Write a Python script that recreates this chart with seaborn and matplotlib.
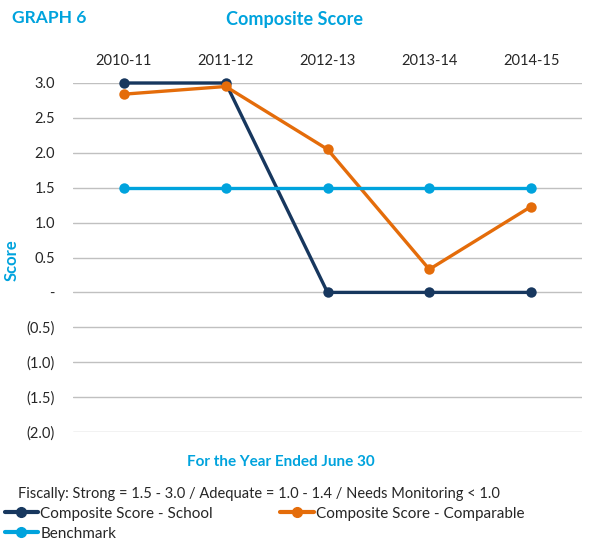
import pandas as pd
import seaborn as sns
import matplotlib.pyplot as plt
from matplotlib.lines import Line2D

years = ['2010-11', '2011-12', '2012-13', '2013-14', '2014-15']
school = [3.0, 3.0, 0.0, 0.0, 0.0]
comparable = [2.84, 2.95, 2.05, 0.33, 1.23]
benchmark = [1.5, 1.5, 1.5, 1.5, 1.5]

series_names = ['Composite Score - School', 'Composite Score - Comparable', 'Benchmark']
colors = ['#17375E', '#E46C0A', '#00A3DD']
y_ticks = [3.0, 2.5, 2.0, 1.5, 1.0, 0.5, 0.0, -0.5, -1.0, -1.5, -2.0]

def fmt(v):
    if v == 0:
        return '-'
    if v < 0:
        return '(%.1f)' % abs(v)
    return '%.1f' % v

df = pd.DataFrame({
    'Year': years * 3,
    'Score': school + comparable + benchmark,
    'Series': [s for s in series_names for _ in years],
})

sns.set_style('white')
plt.rcParams['font.family'] = ['Lato', 'DejaVu Sans']
blue = '#00A3DD'
txt = '#262626'

fig = plt.figure(figsize=(6.06, 5.44), dpi=100)
ax = fig.add_axes([73 / 606, 1 - 432 / 544, (582 - 73) / 606, (432 - 83) / 544])

for name, col in zip(series_names, colors):
    sub = df[df['Series'] == name]
    sns.lineplot(data=sub, x='Year', y='Score', ax=ax, color=col, marker='o',
                 markersize=7.5, markeredgewidth=0, linewidth=2.4, sort=False,
                 clip_on=False, zorder=3)

ax.set_xlim(-0.5, 4.5)
ax.set_ylim(-2.0, 3.0)
ax.set_yticks(y_ticks)
ax.set_yticklabels([fmt(v) for v in y_ticks], fontsize=10.5, color=txt)
ax.yaxis.grid(True, color='#C0C0C0', linewidth=1)
ax.set_axisbelow(True)
ax.xaxis.tick_top()
ax.tick_params(axis='x', labelsize=10.5, labelcolor=txt, length=0, pad=11)
ax.tick_params(axis='y', length=0, pad=13)
for s in ax.spines.values():
    s.set_visible(False)
ax.set_xlabel('')
ax.set_ylabel('')

fig.text(12 / 606, 1 - 18 / 544, 'GRAPH 6', fontsize=12.5, fontweight='bold',
         color=blue, va='center', ha='left')
fig.text(294 / 606, 1 - 19 / 544, 'Composite Score', fontsize=13, fontweight='bold',
         color=blue, va='center', ha='center')
fig.text(12 / 606, 1 - 260 / 544, 'Score', fontsize=12, fontweight='bold',
         color=blue, va='center', ha='center', rotation=90)
fig.text(281 / 606, 1 - 462 / 544, 'For the Year Ended June 30', fontsize=11,
         fontweight='bold', color=blue, va='center', ha='center')
fig.text(18 / 606, 1 - 494 / 544,
         'Fiscally: Strong = 1.5 - 3.0 / Adequate = 1.0 - 1.4 / Needs Monitoring < 1.0',
         fontsize=10.5, color=txt, va='center', ha='left')

handles = [Line2D([], [], color=colors[0], marker='o', linewidth=3, markersize=7),
           Line2D([], [], color=colors[2], marker='o', linewidth=3, markersize=7),
           Line2D([], [], color=colors[1], marker='o', linewidth=3, markersize=7)]
labels = [series_names[0], series_names[2], series_names[1]]
fig.legend(handles, labels, ncol=2, loc='upper left',
           bbox_to_anchor=(0 / 606, 1 - 502 / 544), frameon=False, fontsize=11,
           handlelength=2.2, handletextpad=0.15, columnspacing=4.4,
           labelspacing=0.4, borderaxespad=0, borderpad=0.3, labelcolor=txt)

fig.savefig('out.png', dpi=100)
